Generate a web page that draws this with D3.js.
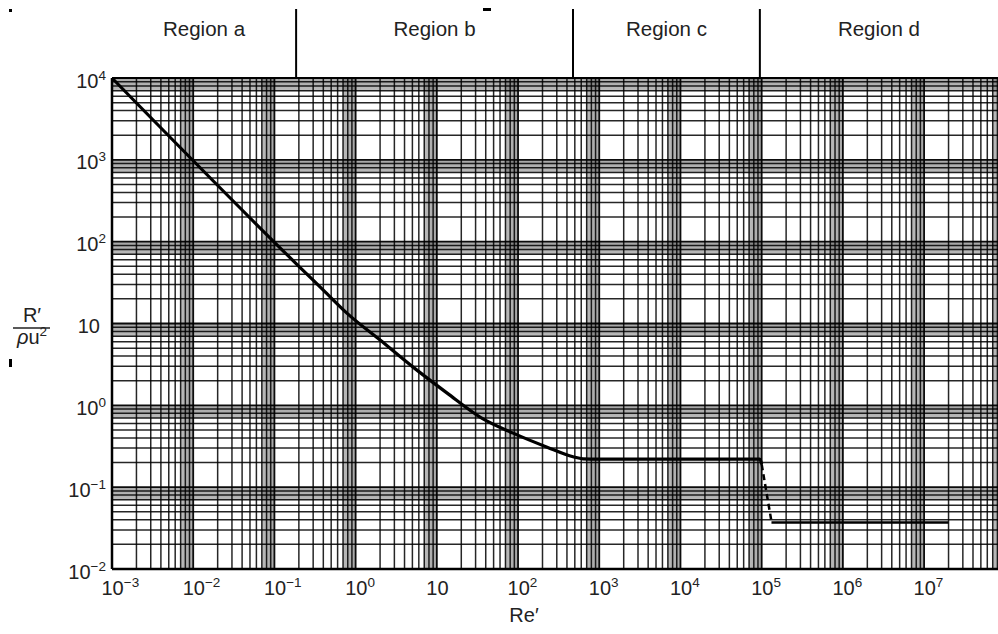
<!DOCTYPE html>
<html>
<head>
<meta charset="utf-8">
<script src="https://cdn.jsdelivr.net/npm/d3@7"></script>
<style>
  html, body { margin: 0; padding: 0; background: #fff; }
  svg { display: block; font-family: "Liberation Sans", Arial, Helvetica, sans-serif; }
</style>
</head>
<body>
<svg id="chart" width="998" height="634"></svg>
<script>
// tick labels: base "10" with an exponent ("" means plain 10)
var xTickValues = [1e-3, 1e-2, 1e-1, 1, 10, 1e2, 1e3, 1e4, 1e5, 1e6, 1e7];
var xTickExps   = ["\u22123", "\u22122", "\u22121", "0", "", "2", "3", "4", "5", "6", "7"];
var yTickValues = [1e-2, 1e-1, 1, 10, 1e2, 1e3, 1e4];
var yTickExps   = ["\u22122", "\u22121", "0", "", "2", "3", "4"];

// region boundaries (Re') and names
var regionBounds = [0.185, 475, 9.5e4];
var regionNames  = ["Region a", "Region b", "Region c", "Region d"];

// curve: solid part up to the drop
var reMain = [1e-3, 0.2, 0.4, 0.78, 2, 5.1, 13.4, 34, 87, 228, 475, 630, 1000, 1e4, 5e4, 9.5e4, 1.0e5];
var rMain  = [1e4, 50, 25.6, 13.4, 6.27, 2.93, 1.41, 0.72, 0.457, 0.308, 0.235, 0.222, 0.22, 0.22, 0.22, 0.22, 0.19];
// dashed drop
var reDrop = [1.0e5, 1.32e5];
var rDrop  = [0.19, 0.038];
// solid tail
var reTail = [1.32e5, 2e7];
var rTail  = [0.037, 0.037];

var svg = d3.select("#chart");
var width = +svg.attr("width");

var x = d3.scaleLog().domain([1e-3, Math.pow(10, 7.91)]).range([112, width]);
var y = d3.scaleLog().domain([1e-2, 1e4]).range([569, 78]);

var x0 = x.range()[0], x1 = x.range()[1];
var y0 = y.range()[0], y1 = y.range()[1];

// grid values: majors, minors 2..9, and a fine gray band 7..9.9 in each decade
function gridValues(scale) {
  var d = scale.domain(), lo = Math.floor(Math.log10(d[0])), hi = Math.ceil(Math.log10(d[1]));
  var major = [], minor = [], band = [];
  for (var e = lo; e <= hi; e++) {
    var p = Math.pow(10, e);
    major.push(p);
    for (var k = 2; k <= 9; k++) minor.push(k * p);
    for (var b = 7.0; b < 9.95; b += 0.1) band.push(b * p);
  }
  var inside = function(v) { return v >= d[0] * 0.9999 && v <= d[1] * 1.0001; };
  return { major: major.filter(inside), minor: minor.filter(inside), band: band.filter(inside) };
}

var gx = gridValues(x), gy = gridValues(y);
var grid = svg.append("g").attr("class", "grid");

function vLines(vals, cls, color, w, op) {
  grid.selectAll("line." + cls).data(vals).enter().append("line")
    .attr("class", cls)
    .attr("x1", function(d) { return x(d); }).attr("x2", function(d) { return x(d); })
    .attr("y1", y0).attr("y2", y1)
    .attr("stroke", color).attr("stroke-width", w).attr("stroke-opacity", op);
}
function hLines(vals, cls, color, w, op) {
  grid.selectAll("line." + cls).data(vals).enter().append("line")
    .attr("class", cls)
    .attr("y1", function(d) { return y(d); }).attr("y2", function(d) { return y(d); })
    .attr("x1", x0).attr("x2", x1)
    .attr("stroke", color).attr("stroke-width", w).attr("stroke-opacity", op);
}

vLines(gx.band, "vb", "#666", 0.9, 0.3);
hLines(gy.band, "hb", "#666", 0.9, 0.3);
vLines(gx.minor, "vm", "#000", 1.5, 0.85);
hLines(gy.minor, "hm", "#000", 1.5, 0.85);
vLines(gx.major, "vM", "#000", 1.8, 0.95);
hLines(gy.major, "hM", "#000", 1.8, 0.95);

// frame: top, left, bottom
svg.append("line").attr("x1", x0).attr("x2", x1).attr("y1", y1).attr("y2", y1)
  .attr("stroke", "#000").attr("stroke-width", 2.2);
svg.append("line").attr("x1", x0).attr("x2", x0).attr("y1", y1).attr("y2", y0)
  .attr("stroke", "#000").attr("stroke-width", 2.5);
svg.append("line").attr("x1", x0).attr("x2", x1).attr("y1", y0).attr("y2", y0)
  .attr("stroke", "#000").attr("stroke-width", 2.5);

// axes (labels built with superscripts)
var xAxis = svg.append("g")
  .attr("transform", "translate(0," + y0 + ")")
  .call(d3.axisBottom(x).tickValues(xTickValues).tickSize(0).tickFormat(""));
xAxis.select(".domain").remove();
xAxis.selectAll(".tick").each(function(d, i) {
  var t = d3.select(this).append("text")
    .attr("x", -11).attr("y", 26)
    .attr("text-anchor", "start")
    .attr("fill", "#222").attr("font-size", 20);
  t.append("tspan").text("10");
  if (xTickExps[i]) t.append("tspan").attr("dy", -8).attr("font-size", 13.5).text(xTickExps[i]);
});

var yAxis = svg.append("g")
  .attr("transform", "translate(" + x0 + ",0)")
  .call(d3.axisLeft(y).tickValues(yTickValues).tickSize(0).tickFormat(""));
yAxis.select(".domain").remove();
yAxis.selectAll(".tick").each(function(d, i) {
  var t = d3.select(this).append("text")
    .attr("x", yTickExps[i] ? -6 : -12).attr("y", 9)
    .attr("text-anchor", "end")
    .attr("fill", "#222").attr("font-size", 20);
  t.append("tspan").text("10");
  if (yTickExps[i]) t.append("tspan").attr("dy", -8).attr("font-size", 13.5).text(yTickExps[i]);
});

// region separators and names above the plot
svg.selectAll("line.region").data(regionBounds).enter().append("line")
  .attr("class", "region")
  .attr("x1", function(d) { return x(d); }).attr("x2", function(d) { return x(d); })
  .attr("y1", 9).attr("y2", y1)
  .attr("stroke", "#000").attr("stroke-width", 2);

var edges = [x0].concat(regionBounds.map(function(d) { return x(d); })).concat([x1]);
svg.selectAll("text.region").data(regionNames).enter().append("text")
  .attr("class", "region")
  .attr("x", function(d, i) { return (edges[i] + edges[i + 1]) / 2; })
  .attr("y", 36)
  .attr("text-anchor", "middle")
  .attr("font-size", 20.5).attr("fill", "#222")
  .text(function(d) { return d; });

// axis titles
svg.append("text").attr("x", 524).attr("y", 622).attr("text-anchor", "middle")
  .attr("font-size", 20).attr("fill", "#222").text("Re\u2032");

svg.append("text").attr("x", 32).attr("y", 322).attr("text-anchor", "middle")
  .attr("font-size", 20).attr("fill", "#222").text("R\u2032");
svg.append("line").attr("x1", 13).attr("x2", 50).attr("y1", 328).attr("y2", 328)
  .attr("stroke", "#222").attr("stroke-width", 1.5);
var ylab = svg.append("text").attr("x", 32).attr("y", 344).attr("text-anchor", "middle")
  .attr("font-size", 20).attr("fill", "#222");
ylab.append("tspan").attr("font-style", "italic").text("\u03c1");
ylab.append("tspan").text("u");
ylab.append("tspan").attr("dy", -8).attr("font-size", 13.5).text("2");

// curve
var line = d3.line()
  .x(function(d) { return x(d[0]); })
  .y(function(d) { return y(d[1]); })
  .curve(d3.curveMonotoneX);

function pairs(a, b) { return a.map(function(v, i) { return [v, b[i]]; }); }

svg.append("path").datum(pairs(reMain, rMain)).attr("d", line)
  .attr("fill", "none").attr("stroke", "#000").attr("stroke-width", 3.2);
svg.append("path").datum(pairs(reDrop, rDrop)).attr("d", d3.line()
    .x(function(d) { return x(d[0]); }).y(function(d) { return y(d[1]); }))
  .attr("fill", "none").attr("stroke", "#000").attr("stroke-width", 2.5)
  .attr("stroke-dasharray", "6,4");
svg.append("path").datum(pairs(reTail, rTail)).attr("d", line)
  .attr("fill", "none").attr("stroke", "#000").attr("stroke-width", 2.6);

// small specks from the scan
svg.append("rect").attr("x", 9).attr("y", 9).attr("width", 3).attr("height", 3).attr("fill", "#000");
svg.append("rect").attr("x", 483).attr("y", 8).attr("width", 8).attr("height", 3).attr("fill", "#000");
svg.append("rect").attr("x", 9).attr("y", 359).attr("width", 3).attr("height", 8).attr("fill", "#000");
</script>
</body>
</html>
